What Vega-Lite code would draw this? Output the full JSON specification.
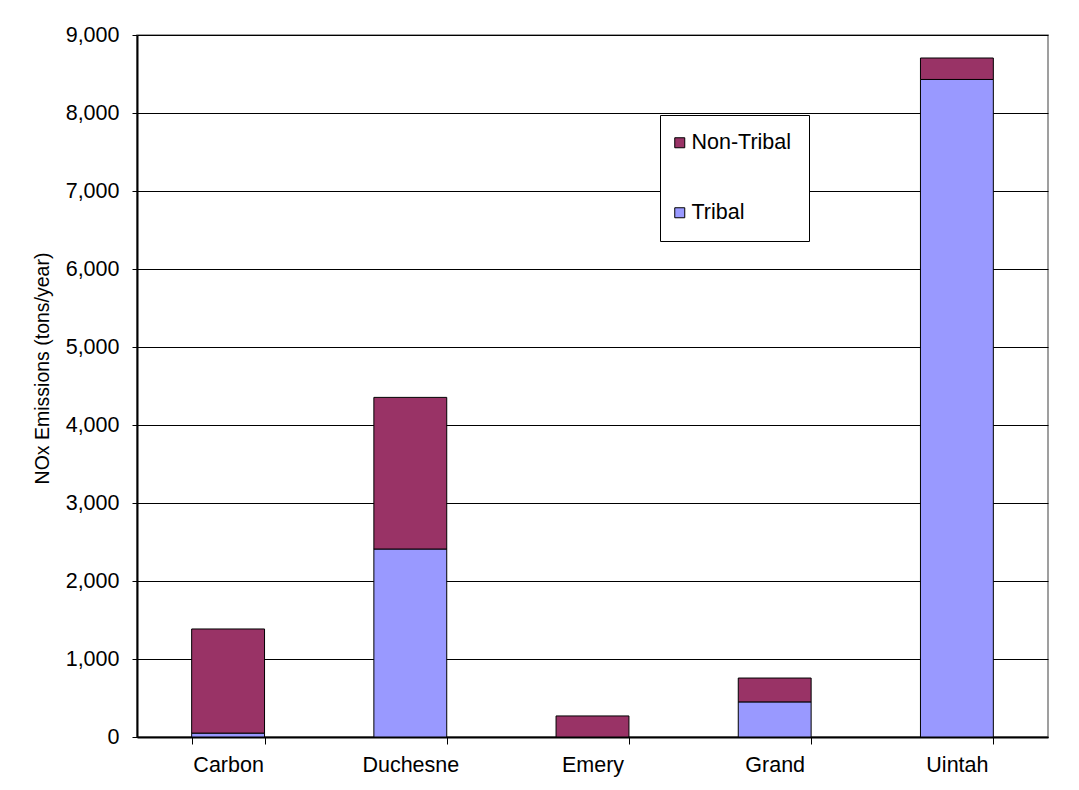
{
  "$schema": "https://vega.github.io/schema/vega-lite/v6.json",
  "width": 911,
  "height": 702,
  "autosize": {"type": "none"},
  "padding": {"left": 137, "top": 35, "right": 31, "bottom": 53},
  "background": "white",
  "config": {
    "font": "Liberation Sans",
    "view": {"stroke": "#808080", "strokeWidth": 1.5}
  },
  "data": {
    "values": [
      {"county": "Carbon", "series": "Tribal", "tons": 50},
      {"county": "Carbon", "series": "Non-Tribal", "tons": 1335},
      {"county": "Duchesne", "series": "Tribal", "tons": 2410},
      {"county": "Duchesne", "series": "Non-Tribal", "tons": 1944},
      {"county": "Emery", "series": "Tribal", "tons": 0},
      {"county": "Emery", "series": "Non-Tribal", "tons": 270},
      {"county": "Grand", "series": "Tribal", "tons": 450},
      {"county": "Grand", "series": "Non-Tribal", "tons": 306},
      {"county": "Uintah", "series": "Tribal", "tons": 8430},
      {"county": "Uintah", "series": "Non-Tribal", "tons": 275}
    ]
  },
  "mark": {"type": "bar", "stroke": "black", "strokeWidth": 1},
  "encoding": {
    "x": {
      "field": "county",
      "type": "nominal",
      "sort": null,
      "scale": {"paddingInner": 0.6, "paddingOuter": 0.3},
      "axis": {
        "title": null,
        "labelAngle": 0,
        "labelFontSize": 21.5,
        "labelColor": "black",
        "labelPadding": 10,
        "tickBand": "extent",
        "tickSize": 7,
        "tickColor": "black",
        "domainColor": "black",
        "domainWidth": 2,
        "grid": false
      }
    },
    "y": {
      "field": "tons",
      "type": "quantitative",
      "stack": "zero",
      "scale": {"domain": [0, 9000], "nice": false},
      "axis": {
        "title": "NOx Emissions (tons/year)",
        "titleFontSize": 19.5,
        "titleFontWeight": "normal",
        "titleColor": "black",
        "titleAngle": -90,
        "titleX": -95,
        "titleY": 333,
        "titleAlign": "center",
        "titleBaseline": "middle",
        "values": [0, 1000, 2000, 3000, 4000, 5000, 6000, 7000, 8000, 9000],
        "format": ",d",
        "labelFontSize": 21.5,
        "labelColor": "black",
        "labelPadding": 13,
        "tickSize": 5,
        "tickColor": "black",
        "domainColor": "black",
        "domainWidth": 2,
        "grid": true,
        "gridColor": "black",
        "gridWidth": 1,
        "gridOpacity": 1
      }
    },
    "color": {
      "field": "series",
      "type": "nominal",
      "scale": {"domain": ["Non-Tribal", "Tribal"], "range": ["#993366", "#9999FF"]},
      "legend": {
        "title": null,
        "orient": "none",
        "legendX": 523,
        "legendY": 80,
        "padding": 17,
        "strokeColor": "black",
        "fillColor": "white",
        "symbolType": "square",
        "symbolSize": 100,
        "symbolStrokeColor": "black",
        "symbolStrokeWidth": 1,
        "symbolOpacity": 1,
        "symbolOffset": -8,
        "labelFontSize": 21.5,
        "labelColor": "black",
        "labelOffset": 1,
        "rowPadding": 47
      }
    },
    "order": {"field": "series", "sort": "descending"}
  }
}
